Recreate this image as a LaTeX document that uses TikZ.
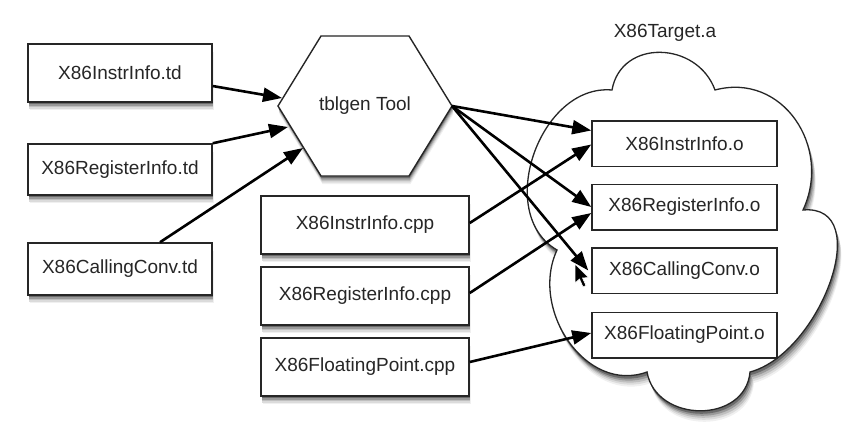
\documentclass[tikz,border=0pt]{standalone}
\usepackage{fontspec}
\setmainfont{Liberation Sans}
\usetikzlibrary{arrows.meta}
\newcommand\cloudpath{(612,-90) to[out=80,in=110,looseness=1.3] (715,-90)
  to[out=15,in=65,looseness=1.2] (803,-210)
  to[out=5,in=15,looseness=1.1] (750,-372)
  to[out=-95,in=-80,looseness=1.3] (647,-372)
  to[out=-160,in=-115,looseness=1.1] (557,-250)
  to[out=150,in=175,looseness=1.1] (612,-90) -- cycle}
\newcommand\hexpath{(321,-36) -- (409,-36) -- (452,-106) -- (409,-176) -- (321,-176) -- (278,-106) -- cycle}
\begin{document}
\begin{tikzpicture}[x=1pt,y=1pt,
  txt/.style={font=\fontsize{19}{21}\selectfont, text=black!85},
  box/.style={draw=black!85, line width=1.5pt, fill=white, inner sep=0pt, txt},
  obox/.style={box, minimum width=185pt, minimum height=45.5pt},
  conn/.style={line width=2.6pt, -{Triangle[length=19pt,width=14pt]}},
  sh1/.style={fill=black!6}, sh2/.style={fill=black!14}, sh3/.style={fill=black!25},
  sh4/.style={fill=black!40}, sh5/.style={fill=black!58},
]
\useasboundingbox (0,0) rectangle (850,-428);
% cloud shadow and cloud
\path[sh1] ([shift={(4,-11)}]0,0) ++(612,-90) to[out=80,in=110,looseness=1.3] ++(103,0)
  to[out=15,in=65,looseness=1.2] ++(88,-120)
  to[out=5,in=15,looseness=1.1] ++(-53,-162)
  to[out=-95,in=-80,looseness=1.3] ++(-103,0)
  to[out=-160,in=-115,looseness=1.1] ++(-90,122)
  to[out=150,in=175,looseness=1.1] ++(55,160) -- cycle;
\begin{scope}[shift={(3.5,-9)}]\path[sh2] \cloudpath;\end{scope}
\begin{scope}[shift={(3,-7)}]\path[sh3] \cloudpath;\end{scope}
\begin{scope}[shift={(2,-5)}]\path[sh4] \cloudpath;\end{scope}
\begin{scope}[shift={(1,-3)}]\path[sh5] \cloudpath;\end{scope}
\path[draw=black!85, line width=1.3pt, fill=white] \cloudpath;
\node[txt] (tgt) at (665,-33) {X86Target.a};
% hexagon
\begin{scope}[shift={(1.5,-8)}]\path[sh1] \hexpath;\end{scope}
\begin{scope}[shift={(1.2,-6.5)}]\path[sh2] \hexpath;\end{scope}
\begin{scope}[shift={(1,-5)}]\path[sh3] \hexpath;\end{scope}
\begin{scope}[shift={(0.8,-3.5)}]\path[sh4] \hexpath;\end{scope}
\begin{scope}[shift={(0.5,-2)}]\path[sh5] \hexpath;\end{scope}
\path[draw=black!85, line width=1.4pt, fill=white] \hexpath;
\node[txt] (tbl) at (365,-106) {tblgen Tool};
\coordinate (hR) at (452,-106);
\coordinate (h1) at (282,-98);
\coordinate (h2) at (288,-127);
\coordinate (h3) at (303,-148);
% box shadows
\foreach \cx/\cy/\w/\h in {120/73/184/58, 120/169.5/184/51, 120/269/184/52, 365/225/208/58, 365/296/208/58, 365/367/208/58}{
  \begin{scope}[shift={(\cx,-\cy)}]
    \path[sh1] (-\w/2+1.5,\h/2-8) rectangle (\w/2+1.5,-\h/2-8);
    \path[sh2] (-\w/2+1.2,\h/2-6.5) rectangle (\w/2+1.2,-\h/2-6.5);
    \path[sh3] (-\w/2+1,\h/2-5) rectangle (\w/2+1,-\h/2-5);
    \path[sh4] (-\w/2+0.8,\h/2-3.5) rectangle (\w/2+0.8,-\h/2-3.5);
    \path[sh5] (-\w/2+0.5,\h/2-2) rectangle (\w/2+0.5,-\h/2-2);
  \end{scope}
}
% left boxes
\node[box, minimum width=184pt, minimum height=58pt] (td1) at (120,-73) {X86InstrInfo.td};
\node[box, minimum width=184pt, minimum height=51pt] (td2) at (120,-169.5) {X86RegisterInfo.td};
\node[box, minimum width=184pt, minimum height=52pt] (td3) at (120,-269) {X86CallingConv.td};
% middle boxes
\node[box, minimum width=208pt, minimum height=58pt] (cpp1) at (365,-225) {X86InstrInfo.cpp};
\node[box, minimum width=208pt, minimum height=58pt] (cpp2) at (365,-296) {X86RegisterInfo.cpp};
\node[box, minimum width=208pt, minimum height=58pt] (cpp3) at (365,-367) {X86FloatingPoint.cpp};
% right boxes
\node[obox] (o1) at (684.5,-143.5) {X86InstrInfo.o};
\node[obox] (o2) at (684.5,-207) {X86RegisterInfo.o};
\node[obox] (o3) at (684.5,-270.5) {X86CallingConv.o};
\node[obox] (o4) at (684.5,-335) {X86FloatingPoint.o};
% connectors
\draw[conn] (td1.-8) -- (h1);
\draw[conn] (td2.north east) -- (h2);
\draw[conn] ([xshift=40pt]td3.north) -- (h3);
\draw[conn] (hR) -- ([yshift=13pt]o1.west);
\draw[conn] (hR) -- (o2.west);
\draw[conn] (hR) -- ([xshift=-3pt]o3.west);
\draw[conn] ([yshift=2pt]cpp1.east) -- ([yshift=-1pt]o1.west);
\draw[conn] ([yshift=3pt]cpp2.east) -- ([yshift=-6pt]o2.west);
\draw[conn] ([yshift=5pt]cpp3.east) -- ([yshift=2pt]o4.west);
% mouse cursor
\path[fill=black, draw=white, line width=0.6pt]
  (575,-264) -- (575,-283) -- (579.5,-279) -- (583,-287) -- (586,-285.5) -- (582.5,-278) -- (588.5,-277.5) -- cycle;
\end{tikzpicture}
\end{document}
